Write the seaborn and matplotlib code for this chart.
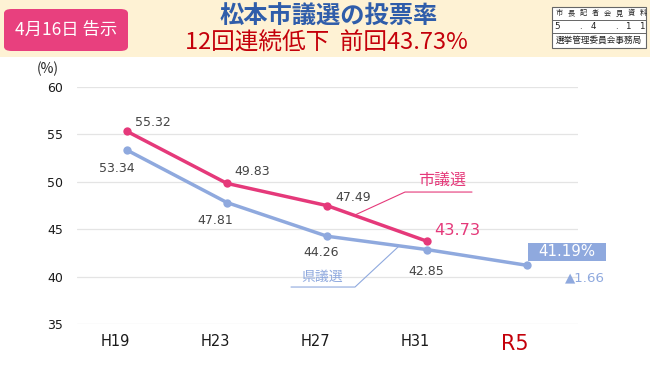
import matplotlib
matplotlib.use("Agg")
import matplotlib.pyplot as plt
from matplotlib.patches import FancyBboxPatch, Rectangle
import seaborn as sns
import pandas as pd

years = ["H19", "H23", "H27", "H31", "R5"]
city = [55.32, 49.83, 47.49, 43.73]
pref = [53.34, 47.81, 44.26, 42.85, 41.19]
yticks = [35, 40, 45, 50, 55, 60]

PINK = "#E5397A"
BLUE = "#8FA9DE"
GREY = "#444444"
RED = "#C4000A"
NUMF = ['DejaVu Sans', 'Noto Sans CJK JP']

sns.set_theme(style="white")
plt.rcParams['font.family'] = ['Noto Sans CJK JP', 'DejaVu Sans']

W, H = 650, 365
fig = plt.figure(figsize=(6.5, 3.65), dpi=100)
fig.patch.set_facecolor("white")

def fx(px):
    return px / W

def fy(py):
    return 1 - py / H

# header band
fig.patches.append(Rectangle((0, fy(57)), 1, 57 / H, transform=fig.transFigure,
                             facecolor="#FEF2D4", edgecolor="none", zorder=0))
fig.patches.append(FancyBboxPatch((fx(4), fy(51)), 124 / W, 42 / H,
                                  boxstyle="round,pad=0,rounding_size=0.012",
                                  transform=fig.transFigure, facecolor="#E8407E",
                                  edgecolor="none", zorder=1))
fig.text(fx(66), fy(30), "4月16日 告示", color="white", fontsize=12.5,
         ha="center", va="center", zorder=2)
fig.text(fx(329), fy(17), "松本市議選の投票率", color="#2F5DAA", fontsize=17.5,
         fontweight="bold", ha="center", va="center")
fig.text(fx(326), fy(43), "12回連続低下  前回43.73%", color=RED, fontsize=17,
         ha="center", va="center")

# right info box
bx0, bx1 = 552, 646
fig.patches.append(Rectangle((fx(bx0), fy(48)), (bx1 - bx0) / W, 41 / H, transform=fig.transFigure,
                             facecolor="white", edgecolor="#666666", linewidth=0.8, zorder=1))
for yy in (20, 33):
    fig.lines.append(plt.Line2D([fx(bx0), fx(bx1)], [fy(yy), fy(yy)], transform=fig.transFigure,
                                color="#666666", linewidth=0.7, zorder=2))
row1 = "市長記者会見資料"
for k, ch in enumerate(row1):
    fig.text(fx(559 + k * 12.1), fy(13.5), ch, fontsize=5.2, color="#222222",
             ha="center", va="center", zorder=3)
row2 = ["5", ".", "4", ".", "1", "1"]
row2x = [557, 580, 593, 616, 628, 642]
for ch, xx in zip(row2, row2x):
    fig.text(fx(xx), fy(26.5), ch, fontsize=6.3, color="#222222", family=NUMF,
             ha="center", va="center", zorder=3)
fig.text(fx(599), fy(40.5), "選挙管理委員会事務局", fontsize=6.2, color="#222222",
         ha="center", va="center", zorder=3)

# chart axes
ax = fig.add_axes([fx(77), fy(324), 501 / W, 237 / H])
df = pd.DataFrame({
    "x": list(range(len(city))) + list(range(len(pref))),
    "v": city + pref,
    "s": ["市議選"] * len(city) + ["県議選"] * len(pref),
})
sns.lineplot(data=df, x="x", y="v", hue="s", palette={"市議選": PINK, "県議選": BLUE},
             hue_order=["県議選", "市議選"], marker="o", markersize=6, markeredgewidth=0,
             linewidth=2.5, legend=False, ax=ax)

ax.set_xlim(-0.5, 4.51)
ax.set_ylim(35, 60)
ax.set_yticks(yticks)
ax.set_yticklabels([str(v) for v in yticks], fontsize=9, color="#1A1A1A", family=NUMF)
ax.set_xticks([i - 0.12 for i in range(len(years))])
ax.set_xticklabels(years, fontsize=10.5, color="#1A1A1A", family=NUMF)
xl = ax.get_xticklabels()[-1]
xl.set_color(RED)
xl.set_fontsize(15)
ax.tick_params(axis="y", length=0, pad=10)
ax.tick_params(axis="x", length=0, pad=7)
ax.yaxis.grid(True, color="#E4E4E4", linewidth=0.9)
ax.xaxis.grid(False)
for sp in ax.spines.values():
    sp.set_visible(False)
ax.set_xlabel("")
ax.set_ylabel("")
fig.text(fx(48), fy(69), "(%)", fontsize=10, color="#222222", ha="center", va="center")

# value labels (offsets in points)
city_off = [(18.7, 6.5), (18, 8.6), (18.7, 5.8)]
for i, (dx, dy) in enumerate(city_off):
    ax.annotate(f"{city[i]:.2f}", (i, city[i]), xytext=(dx, dy), textcoords="offset points",
                fontsize=9, color=GREY, ha="center", va="center", family=NUMF)
ax.annotate(f"{city[3]:.2f}", (3, city[3]), xytext=(22, 8), textcoords="offset points",
            fontsize=11.6, color=PINK, ha="center", va="center", family=NUMF)
pref_off = [(-7, -13), (-8.6, -13), (-4.3, -11.5), (-0.7, -16)]
for i, (dx, dy) in enumerate(pref_off):
    ax.annotate(f"{pref[i]:.2f}", (i, pref[i]), xytext=(dx, dy), textcoords="offset points",
                fontsize=9, color=GREY, ha="center", va="center", family=NUMF)

# R5 boxed label
ax.add_patch(Rectangle((4 + 0.01, pref[4] + 0.48), 0.78, 1.9, facecolor=BLUE,
                       edgecolor="none", clip_on=False, zorder=3))
ax.text(4 + 0.40, pref[4] + 0.48 + 0.95, f"{pref[4]:.2f}%", fontsize=10.8, color="white",
        ha="center", va="center", zorder=4, clip_on=False, family=NUMF)
ax.annotate(f"▲{pref[3] - pref[4]:.2f}", (4, pref[4]), xytext=(42, -9.4), textcoords="offset points",
            fontsize=9.6, color=BLUE, ha="center", va="center", annotation_clip=False, family=NUMF)

# series callouts
ax.plot([2.28, 2.78, 3.45], [46.5, 48.92, 48.92], color=PINK, lw=0.8)
ax.text(3.15, 50.19, "市議選", fontsize=11.5, color=PINK, ha="center", va="center")

ax.plot([1.64, 2.28, 2.71], [38.9, 38.9, 43.12], color=BLUE, lw=0.8)
ax.text(1.95, 39.96, "県議選", fontsize=10, color=BLUE, ha="center", va="center")

fig.savefig("out.png", dpi=100)
